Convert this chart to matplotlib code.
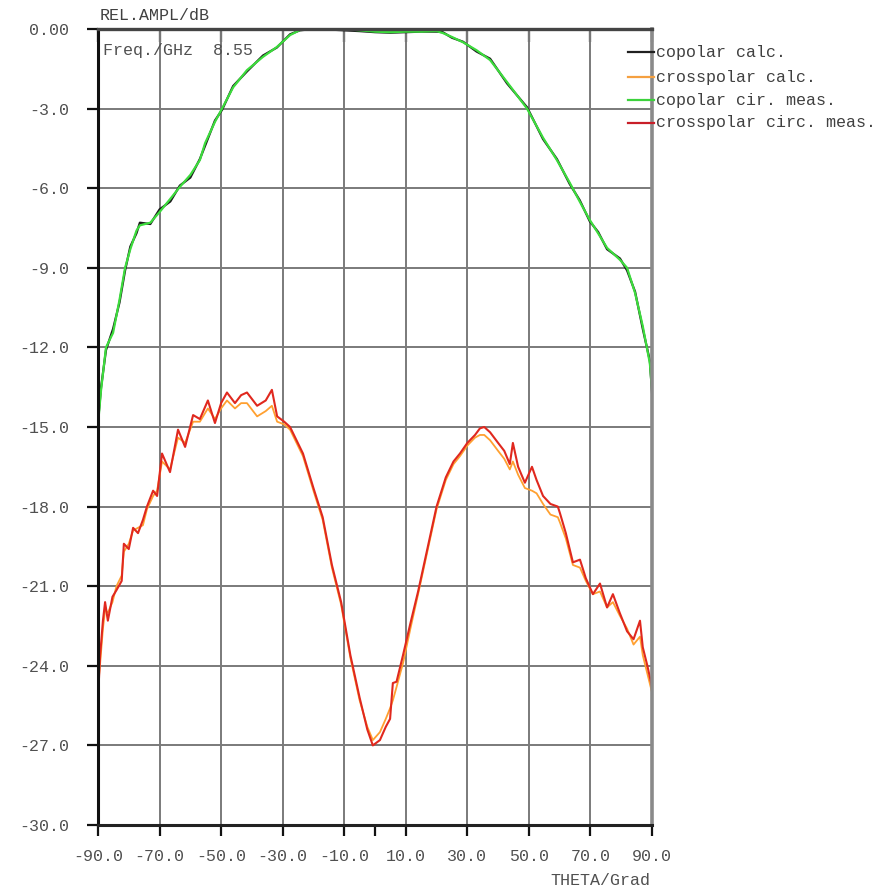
import matplotlib
matplotlib.use("Agg")
import matplotlib.pyplot as plt
from matplotlib.lines import Line2D

# ---------------- data ----------------
cop_t = [-90, -89, -87.4, -85.1, -83, -81.2, -79.5, -77.5, -76.4, -73, -70, -66.5,
         -63.4, -60, -56.9, -55.2, -52, -49.7, -46.1, -41.6, -36.4, -31.9, -27.6,
         -24.4, -20, -15, -10, -5, 0, 5, 10, 15, 20, 22, 25, 28.6, 33, 37.4, 42.9,
         49.4, 54.6, 59.1, 63.3, 66.5, 69.8, 72.5, 75.4, 79.6, 81.9, 84.5, 87,
         89.3, 90]
# copolar circ. measured (green)
cop_meas = [-14.9, -13.6, -12.0, -11.45, -10.2, -9.0, -8.3, -7.6, -7.4, -7.3, -6.9,
            -6.4, -5.95, -5.5, -4.94, -4.3, -3.5, -3.0, -2.2, -1.55, -1.05, -0.68,
            -0.23, -0.04, 0.0, 0.0, 0.0, -0.05, -0.1, -0.12, -0.1, -0.1, -0.08,
            -0.15, -0.3, -0.5, -0.8, -1.17, -2.0, -3.0, -4.1, -4.94, -5.8, -6.5,
            -7.2, -7.7, -8.25, -8.7, -9.0, -9.95, -11.2, -12.6, -13.6]
# copolar calculated (black)
cop_calc = [-14.8, -13.5, -12.1, -11.3, -10.3, -9.1, -8.2, -7.7, -7.3, -7.35, -6.8,
            -6.5, -5.9, -5.6, -4.9, -4.4, -3.45, -3.05, -2.15, -1.6, -1.0, -0.7,
            -0.2, -0.05, 0.0, -0.02, -0.05, -0.08, -0.12, -0.14, -0.12, -0.1, -0.1,
            -0.12, -0.33, -0.48, -0.85, -1.12, -2.05, -2.95, -4.15, -4.9, -5.85,
            -6.45, -7.25, -7.65, -8.3, -8.65, -9.1, -9.9, -11.3, -12.5, -13.7]

xp_t = [-90, -89.3, -88.4, -87.7, -86.8, -85.3, -84.0, -82.3, -81.6, -80.0, -78.6,
        -77.0, -75.4, -74.1, -72.1, -70.8, -69.2, -66.6, -64.0, -61.7, -59.1, -56.9,
        -54.3, -52.0, -50.0, -48.1, -45.5, -43.5, -41.6, -38.3, -35.5, -33.5, -31.8,
        -29.5, -27.6, -25.5, -23.4, -20.0, -17.0, -14.0, -11.0, -8.0, -5.0, -2.5,
        -0.7, 1.6, 3.5, 4.9, 5.8, 7.0, 9.1, 11.5, 14.0, 17.0, 20.0, 23.0, 25.5, 27.6,
        30.0, 32.5, 34.1, 35.5, 37.4, 40.0, 42.0, 43.8, 44.8, 46.5, 48.7, 51.0, 52.5,
        54.6, 57.0, 59.4, 60.1, 62.0, 64.3, 66.6, 68.5, 70.8, 73.1, 75.4, 77.3, 79.5,
        81.9, 84.0, 86.1, 87.0, 88.5, 90]
# crosspolar circ. measured (red)
xp_meas = [-25.2, -23.6, -22.3, -21.6, -22.3, -21.4, -21.15, -20.8, -19.4, -19.6,
           -18.8, -19.0, -18.5, -18.0, -17.4, -17.6, -16.0, -16.7, -15.1, -15.75,
           -14.55, -14.7, -14.0, -14.85, -14.1, -13.7, -14.1, -13.8, -13.7, -14.2,
           -14.0, -13.6, -14.6, -14.8, -15.0, -15.5, -16.0, -17.3, -18.4, -20.2,
           -21.6, -23.6, -25.2, -26.4, -27.0, -26.8, -26.3, -26.0, -24.65, -24.6,
           -23.6, -22.4, -21.2, -19.6, -18.0, -16.9, -16.3, -16.0, -15.6, -15.3,
           -15.05, -15.0, -15.2, -15.6, -15.9, -16.4, -15.6, -16.5, -17.1, -16.5,
           -17.0, -17.6, -17.9, -18.0, -18.25, -19.0, -20.1, -20.0, -20.7, -21.3,
           -20.9, -21.8, -21.3, -22.0, -22.7, -23.0, -22.3, -23.3, -24.0, -24.8]
# crosspolar calculated (orange)
xp_calc = [-24.8, -23.9, -22.6, -21.9, -22.0, -21.6, -21.0, -20.6, -19.7, -19.4,
           -18.9, -18.8, -18.7, -18.1, -17.6, -17.4, -16.3, -16.6, -15.4, -15.6,
           -14.8, -14.8, -14.3, -14.7, -14.3, -14.0, -14.3, -14.1, -14.1, -14.6,
           -14.4, -14.2, -14.8, -14.9, -15.1, -15.6, -16.1, -17.4, -18.5, -20.3,
           -21.7, -23.7, -25.3, -26.3, -26.8, -26.5, -26.0, -25.6, -25.3, -24.8,
           -23.9, -22.6, -21.3, -19.7, -18.1, -17.0, -16.4, -16.1, -15.7, -15.4,
           -15.3, -15.3, -15.5, -15.9, -16.2, -16.6, -16.3, -16.8, -17.3, -17.4,
           -17.5, -17.9, -18.3, -18.4, -18.6, -19.2, -20.2, -20.3, -20.8, -21.3,
           -21.2, -21.8, -21.6, -22.1, -22.6, -23.2, -22.9, -23.6, -24.3, -25.0]

x_ticks = [-90, -70, -50, -30, -10, 10, 30, 50, 70, 90]
x_labels = ["-90.0", "-70.0", "-50.0", "-30.0", "-10.0", "10.0", "30.0", "50.0", "70.0", "90.0"]
y_ticks = [0, -3, -6, -9, -12, -15, -18, -21, -24, -27, -30]
y_labels = ["0.00", "-3.0", "-6.0", "-9.0", "-12.0", "-15.0", "-18.0", "-21.0", "-24.0", "-27.0", "-30.0"]

legend_labels = ["copolar calc.", "crosspolar calc.", "copolar cir. meas.", "crosspolar circ. meas."]
legend_colors = ["#202020", "#f5a040", "#3cd23c", "#c81e28"]

# ---------------- figure ----------------
plt.rcParams['font.family'] = ['Liberation Mono', 'DejaVu Sans Mono']
W = H = 888
fig = plt.figure(figsize=(8.88, 8.88), dpi=100)
L, R, T, B = 98, 652, 29, 825
ax = fig.add_axes([L / W, 1 - B / H, (R - L) / W, (B - T) / H])
ax.set_xlim(-90, 90)
ax.set_ylim(-30, 0)

grid_c = "#7a7a7a"
for xv in x_ticks[1:-1]:
    ax.axvline(xv, color=grid_c, lw=1.4, zorder=1)
for yv in y_ticks[1:-1]:
    ax.axhline(yv, color=grid_c, lw=1.4, zorder=1)

ax.plot(xp_t, xp_calc, color="#ffa030", lw=1.3, zorder=3)
ax.plot(xp_t, xp_meas, color="#e0281e", lw=1.5, zorder=4)
ax.plot(cop_t, cop_calc, color="#1a1a1a", lw=1.6, zorder=3)
ax.plot(cop_t, cop_meas, color="#3cdc3c", lw=1.6, zorder=4)

tick_c = "#111111"
lab_c = "#505050"
ax.set_xticks(x_ticks)
ax.set_xticklabels(x_labels)
ax.set_yticks(y_ticks)
ax.set_yticklabels(y_labels)
ax.tick_params(axis='both', direction='out', length=8, width=1.6, color=tick_c,
               labelsize=12, labelcolor=lab_c)
ax.tick_params(axis='y', pad=13)
ax.tick_params(axis='x', pad=9)
ax.set_xticks([0], minor=True)
ax.tick_params(axis='x', which='minor', length=8, width=1.6, direction='out', color=tick_c)

# inward ticks along the top edge
top = ax.secondary_xaxis('top')
top.set_xticks(x_ticks)
top.tick_params(direction='in', length=9, width=1.6, color=tick_c, labeltop=False)
top.spines['top'].set_visible(False)

for side, c, lw in [("left", "#111111", 2.2), ("bottom", "#222222", 2.2),
                    ("top", "#444444", 2.4), ("right", "#8a8a8a", 2.6)]:
    ax.spines[side].set_color(c)
    ax.spines[side].set_linewidth(lw)
    ax.spines[side].set_zorder(5)

# texts
fig.text(155 / W, 1 - 15 / H, "REL.AMPL/dB", ha="center", va="center", fontsize=12, color="#404040")
fig.text(103 / W, 1 - 50 / H, "Freq./GHz  8.55", ha="left", va="center", fontsize=12, color=lab_c)
fig.text(650 / W, 1 - 880 / H, "THETA/Grad", ha="right", va="center", fontsize=12, color=lab_c)

# legend (outside at right)
leg_y = [52, 77, 100, 123]
for lab, col, yy in zip(legend_labels, legend_colors, leg_y):
    fig.add_artist(Line2D([628 / W, 654 / W], [1 - yy / H, 1 - yy / H],
                          color=col, lw=1.6, transform=fig.transFigure))
    fig.text(656 / W, 1 - yy / H, lab, ha="left", va="center", fontsize=12, color="#404040")

fig.savefig("out.png", dpi=100, facecolor="white")
